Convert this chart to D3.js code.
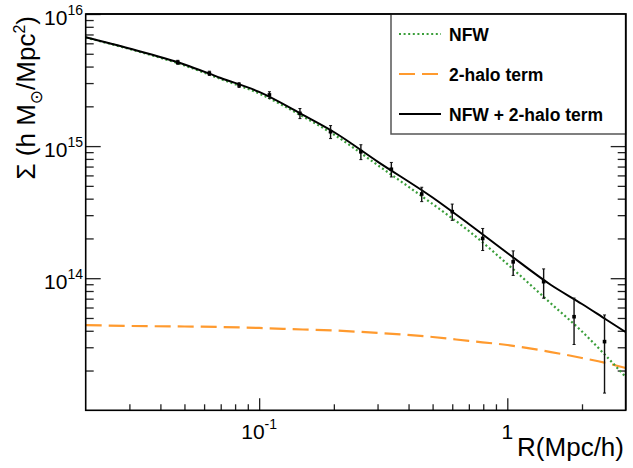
<!DOCTYPE html>
<html>
<head>
<meta charset="utf-8">
<script src="https://d3js.org/d3.v7.min.js"></script>
<style>
  body { margin: 0; background: #fff; }
  svg { display: block; }
  text { font-family: "Liberation Sans", Arial, Helvetica, sans-serif; fill: #000; }
</style>
</head>
<body>
<svg width="633" height="468"></svg>
<script>
// measured profile (points with errors)
var rData = [0.047, 0.063, 0.083, 0.11, 0.146, 0.194, 0.257, 0.341, 0.452, 0.6, 0.796, 1.056, 1.401, 1.858, 2.465];
var sigData = [4.31e15, 3.56e15, 2.90e15, 2.44e15, 1.77e15, 1.285e15, 9.07e14, 6.68e14, 4.34e14, 3.19e14, 2.00e14, 1.33e14, 9.41e13, 5.11e13, 3.31e13];
var sigErr = [0.15e15, 0.13e15, 0.12e15, 0.14e15, 0.155e15, 0.145e15, 1.17e14, 0.84e14, 0.54e14, 0.45e14, 0.38e14, 0.28e14, 2.35e13, 1.96e13, 1.96e13];

// model curves
var rModel = [0.02, 0.03, 0.05, 0.07, 0.1, 0.15, 0.2, 0.3, 0.5, 0.7, 1, 1.5, 2, 2.5, 3];
var nfw = [6.64e15, 5.43e15, 4.08e15, 3.22e15, 2.50e15, 1.675e15, 1.224e15, 7.19e14, 3.645e14, 2.277e14, 1.281e14, 6.43e13, 3.95e13, 2.58e13, 1.787e13];
var twoHalo = [4.42e13, 4.35e13, 4.31e13, 4.27e13, 4.20e13, 4.09e13, 4.02e13, 3.85e13, 3.59e13, 3.35e13, 3.12e13, 2.76e13, 2.49e13, 2.28e13, 2.09e13];
var total = [6.66e15, 5.48e15, 4.15e15, 3.28e15, 2.57e15, 1.725e15, 1.279e15, 7.64e14, 4.08e14, 2.572e14, 1.552e14, 8.88e13, 6.38e13, 4.87e13, 3.91e13];

var xTicks = [0.1, 1];
var xTickLabels = [["10", "-1"], ["1", ""]];
var yTicks = [1e14, 1e15, 1e16];
var yTickLabels = [["10", "14"], ["10", "15"], ["10", "16"]];
var legendLabels = ["NFW", "2-halo term", "NFW + 2-halo term"];

(function() {
    "use strict";

    var svg = d3.select("svg");
    var fL = 85.7, fR = 625.7, fT = 14, fB = 410.3;

    var x = d3.scaleLog().domain([0.02, 3]).range([fL, fR]);
    var y = d3.scaleLog().domain([1e13, 1e16]).range([fB, fT]);

    svg.append("defs").append("clipPath").attr("id", "frame")
        .append("rect").attr("x", fL).attr("y", fT)
        .attr("width", fR - fL).attr("height", fB - fT);

    // minor ticks
    var xMinor = [];
    [0.01, 0.1, 1].forEach(function(d) {
        for (var k = 2; k <= 9; k++) {
            var v = d * k;
            if (v > 0.0201 && v < 2.99) xMinor.push(v);
        }
    });
    var yMinor = [];
    [1e13, 1e14, 1e15].forEach(function(d) {
        for (var k = 2; k <= 9; k++) yMinor.push(d * k);
    });

    function dropDomain(g) {
        g.select(".domain").remove();
        g.selectAll(".tick line").attr("stroke", "#222").attr("stroke-width", 1.3);
        g.selectAll(".tick text").remove();
    }

    svg.append("g").attr("transform", "translate(0," + fB + ")")
        .call(d3.axisBottom(x).tickValues(xTicks).tickSize(-12).tickFormat(""))
        .call(dropDomain);
    svg.append("g").attr("transform", "translate(0," + fB + ")")
        .call(d3.axisBottom(x).tickValues(xMinor).tickSize(-6).tickFormat(""))
        .call(dropDomain);
    svg.append("g").attr("transform", "translate(" + fL + ",0)")
        .call(d3.axisLeft(y).tickValues(yTicks).tickSize(-15).tickFormat(""))
        .call(dropDomain);
    svg.append("g").attr("transform", "translate(" + fL + ",0)")
        .call(d3.axisLeft(y).tickValues(yMinor).tickSize(-8).tickFormat(""))
        .call(dropDomain);
    svg.append("g").attr("transform", "translate(" + fR + ",0)")
        .call(d3.axisRight(y).tickValues(yTicks).tickSize(-15).tickFormat(""))
        .call(dropDomain);
    svg.append("g").attr("transform", "translate(" + fR + ",0)")
        .call(d3.axisRight(y).tickValues(yMinor).tickSize(-8).tickFormat(""))
        .call(dropDomain);

    // tick labels
    xTicks.forEach(function(v, i) {
        var t = svg.append("text").attr("x", x(v)).attr("y", 438.5)
            .attr("text-anchor", "middle").style("font-size", "21px");
        t.append("tspan").text(xTickLabels[i][0]);
        if (xTickLabels[i][1]) {
            t.append("tspan").attr("dy", -9.5).style("font-size", "14px").text(xTickLabels[i][1]);
        }
    });
    yTicks.forEach(function(v, i) {
        var t = svg.append("text").attr("x", 83).attr("y", y(v) + 11)
            .attr("text-anchor", "end").style("font-size", "21px");
        t.append("tspan").text(yTickLabels[i][0]);
        t.append("tspan").attr("dy", -10).style("font-size", "14px").text(yTickLabels[i][1]);
    });

    // axis titles
    svg.append("text").attr("x", 624).attr("y", 456).attr("text-anchor", "end")
        .style("font-size", "26px").text("R(Mpc/h)");

    var yt = svg.append("text").attr("transform", "translate(35,16) rotate(-90)")
        .attr("text-anchor", "end").style("font-size", "26px");
    yt.append("tspan").text("\u03A3 (h M");
    yt.append("tspan").attr("dy", 7).style("font-size", "17px")
        .style("font-family", "'DejaVu Sans', sans-serif").text("\u2299");
    yt.append("tspan").attr("dy", -7).text("/Mpc");
    yt.append("tspan").attr("dy", -10).style("font-size", "16px").text("2");
    yt.append("tspan").attr("dy", 10).text(")");

    // curves
    var plot = svg.append("g").attr("clip-path", "url(#frame)");
    function lineFor(vals) {
        return d3.line()
            .x(function(d, i) { return x(rModel[i]); })
            .y(function(d) { return y(d); })
            .curve(d3.curveMonotoneX)(vals);
    }
    var sNfw = { vals: nfw, color: "#3a9e3a", dash: "2,2.6", width: 2.2 };
    var sTwo = { vals: twoHalo, color: "#ff9a2e", dash: "16,7", width: 2.2 };
    var sTot = { vals: total, color: "#000", dash: null, width: 2 };

    [sTwo, sNfw, sTot].forEach(function(s) {
        plot.append("path").attr("d", lineFor(s.vals))
            .attr("fill", "none").attr("stroke", s.color)
            .attr("stroke-width", s.width)
            .attr("stroke-dasharray", s.dash);
    });

    // data points with error bars
    var pts = plot.selectAll("g.pt").data(rData).enter().append("g").attr("class", "pt");
    function hi(d, i) { return y(sigData[i] + sigErr[i]); }
    function lo(d, i) { return y(sigData[i] - sigErr[i]); }
    pts.append("line")
        .attr("x1", function(d) { return x(d); })
        .attr("x2", function(d) { return x(d); })
        .attr("y1", hi).attr("y2", lo)
        .attr("stroke", "#111").attr("stroke-width", 1.4);
    [hi, lo].forEach(function(fn) {
        pts.append("line")
            .attr("x1", function(d) { return x(d) - 1.5; })
            .attr("x2", function(d) { return x(d) + 1.5; })
            .attr("y1", fn).attr("y2", fn)
            .attr("stroke", "#111").attr("stroke-width", 1);
    });
    pts.append("rect")
        .attr("x", function(d) { return x(d) - 1.8; })
        .attr("y", function(d, i) { return y(sigData[i]) - 1.8; })
        .attr("width", 3.6).attr("height", 3.6).attr("fill", "#000");

    // frame
    svg.append("rect").attr("x", fL).attr("y", fT)
        .attr("width", fR - fL).attr("height", fB - fT)
        .attr("fill", "none").attr("stroke", "#000").attr("stroke-width", 1.6);

    // legend
    var lg = svg.append("g");
    lg.append("rect").attr("x", 391).attr("y", fT).attr("width", fR - 391).attr("height", 120)
        .attr("fill", "#fff").attr("stroke", "#555").attr("stroke-width", 1.5);
    var legY = [34, 74, 114];
    [sNfw, sTwo, sTot].forEach(function(s, i) {
        lg.append("line").attr("x1", 399).attr("x2", 441)
            .attr("y1", legY[i]).attr("y2", legY[i])
            .attr("stroke", s.color).attr("stroke-width", s.width)
            .attr("stroke-dasharray", s.dash);
        lg.append("text").attr("x", 449).attr("y", legY[i] + 6.5)
            .style("font-size", "17.5px").style("font-weight", "bold")
            .text(legendLabels[i]);
    });
    svg.append("path")
        .attr("d", "M" + fL + "," + fT + "H" + fR + "V" + fB)
        .attr("fill", "none").attr("stroke", "#000").attr("stroke-width", 1.6);
})();
</script>
</body>
</html>
